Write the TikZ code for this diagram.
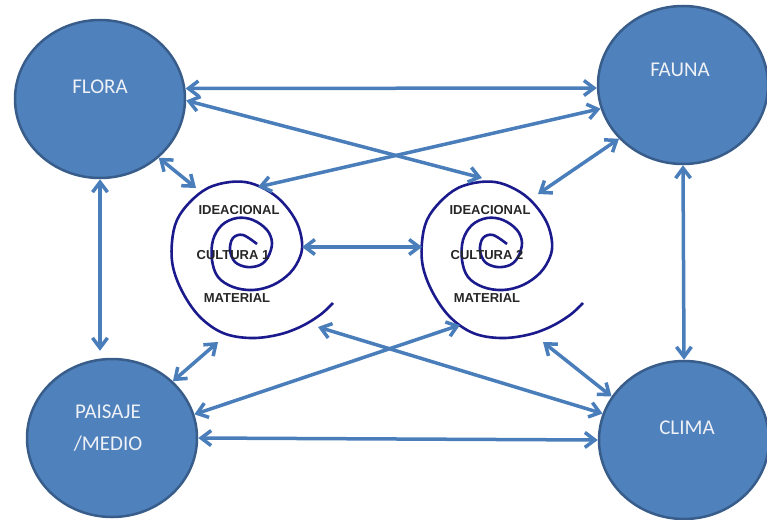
\documentclass[tikz,border=0pt]{standalone}
\usepackage{fontspec}
\setmainfont{Carlito}
\newfontfamily\spiralfont{Liberation Sans}
\usetikzlibrary{shapes.geometric,arrows.meta}
\definecolor{ballblue}{RGB}{79,129,189}
\definecolor{balledge}{RGB}{56,93,138}
\definecolor{arrowblue}{RGB}{74,126,187}
\definecolor{spiralblue}{RGB}{26,26,140}
\definecolor{labelwhite}{RGB}{238,241,246}

\begin{document}
\begin{tikzpicture}
[x=1pt, y=-1pt,
blueball/.style={ellipse, draw=balledge, fill=ballblue, line width=2.5pt, minimum width=170pt, minimum height=158pt},
balltext/.style={text=labelwhite, font=\fontsize{21}{32}\selectfont, align=center},
spiraltext/.style={text=black!85, font=\spiralfont\bfseries\fontsize{13}{15}\selectfont},
spiralline/.style={draw=spiralblue, line width=2.6pt},
biarrow/.style={draw=arrowblue, line width=3.5pt, {Straight Barb[length=10pt,width=15pt]}-{Straight Barb[length=10pt,width=15pt]}},
cultspiral/.pic={
  \draw[spiralline] plot[smooth, tension=0.6] coordinates {
    (257,244) (243,235) (233,238) (230,250) (235,262) (247,267) (260,265) (268,257)
    (272,243) (267,230) (253,220) (237,218) (222,225) (213,240) (212,260) (218,277)
    (233,287) (253,290) (273,285) (290,273) (300,257) (302,242) (297,223) (285,205)
    (270,192) (250,183) (230,182) (208,188) (190,202) (177,220) (172,242) (173,267)
    (183,293) (200,317) (223,333) (250,338) (277,335) (300,327) (320,315) (333,303)};
}
]
\useasboundingbox (0,0) rectangle (767,519);

%balls
\node at (100,99) [blueball] (flora) {};
\node at (683,85) [blueball] (fauna) {};
\node at (112,438) [blueball] (paisaje) {};
\node at (684,440) [blueball] (clima) {};
\node at ([yshift=12pt]flora.center) [balltext] (floratxt) {FLORA};
\node at ([xshift=-3pt,yshift=15pt]fauna.center) [balltext] (faunatxt) {FAUNA};
\node at ([xshift=-4pt,yshift=10pt]paisaje.center) [balltext] (paisajetxt) {PAISAJE\\/MEDIO};
\node at ([xshift=3pt,yshift=12pt]clima.center) [balltext] (climatxt) {CLIMA};

%spirals
\pic at (0,0) {cultspiral};
\pic at (250,0) {cultspiral};
\node at (239,210) [spiraltext] (idea1) {IDEACIONAL};
\node at (233,255) [spiraltext] (cult1) {CULTURA 1};
\node at (237,298) [spiraltext] (mat1) {MATERIAL};
\node at (490,210) [spiraltext] (idea2) {IDEACIONAL};
\node at (487,255) [spiraltext] (cult2) {CULTURA 2};
\node at (487,298) [spiraltext] (mat2) {MATERIAL};
\coordinate (c1top) at (258,187);
\coordinate (c1nw) at (196,188);
\coordinate (c1e) at (302,247);
\coordinate (c1sw) at (218,342);
\coordinate (c1se) at (318,327);
\coordinate (c2top) at (482,178);
\coordinate (c2ne) at (538,194);
\coordinate (c2w) at (422,247);
\coordinate (c2sw) at (460,325);
\coordinate (c2se) at (543,342);

%arrows
\draw[biarrow] (flora.7) -- (fauna.182) ;
\draw[biarrow] (flora.-1) -- (c2top) ;
\draw[biarrow] (fauna.196) -- (c1top) ;
\draw[biarrow] (flora.-45) -- (c1nw) ;
\draw[biarrow] (fauna.220) -- (c2ne) ;
\draw[biarrow, shorten >=7pt] (flora.south) -- (flora.south |- paisaje.north) ;
\draw[biarrow] (fauna.south) -- (clima.north) ;
\draw[biarrow] (c1e) -- (c2w) ;
\draw[biarrow] (paisaje.east) -- (clima.west) ;
\draw[biarrow] (paisaje.43) -- (c1sw) ;
\draw[biarrow] (paisaje.16) -- (c2sw) ;
\draw[biarrow] (c1se) -- (clima.162) ;
\draw[biarrow] (c2se) -- (clima.149) ;

\end{tikzpicture}
\end{document}
